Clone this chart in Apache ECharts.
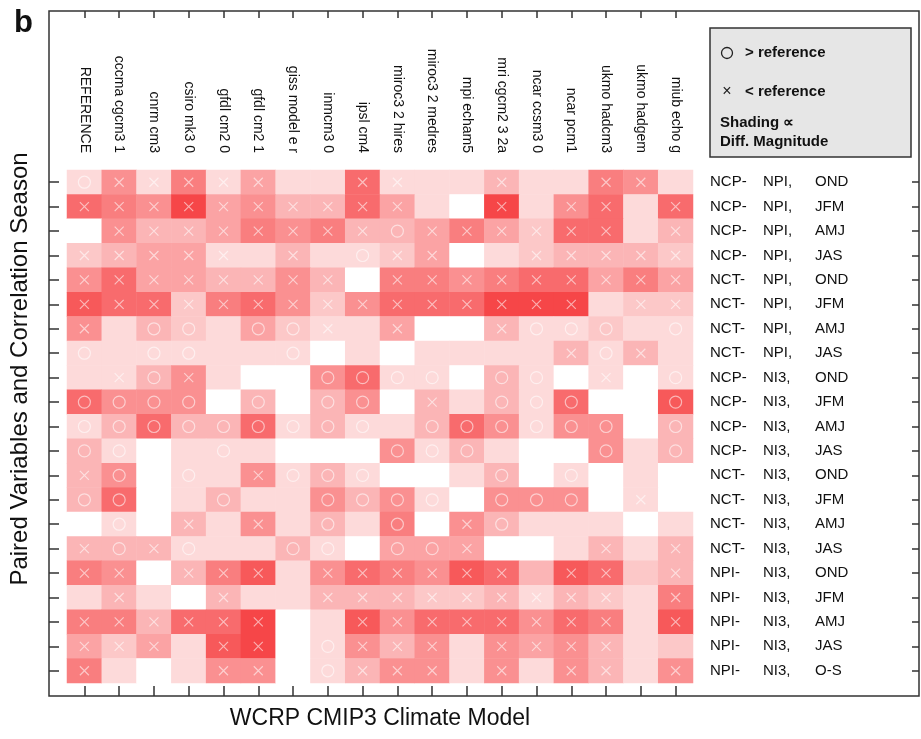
<!DOCTYPE html>
<html>
<head>
<meta charset="utf-8">
<script src="https://cdn.jsdelivr.net/npm/echarts@6/dist/echarts.min.js"></script>
<style>
html, body { margin: 0; padding: 0; background: #fff; }
#chart { width: 921px; height: 739px; }
</style>
</head>
<body>
<div id="chart"></div>
<script>
var models = ['REFERENCE', 'cccma cgcm3 1', 'cnrm cm3', 'csiro mk3 0', 'gfdl cm2 0', 'gfdl cm2 1',
	'giss model e r', 'inmcm3 0', 'ipsl cm4', 'miroc3 2 hires', 'miroc3 2 medres', 'mpi echam5',
	'mri cgcm2 3 2a', 'ncar ccsm3 0', 'ncar pcm1', 'ukmo hadcm3', 'ukmo hadgem', 'miub echo g'];

// the three columns of the row labels
var firstVar = ['NCP-', 'NCP-', 'NCP-', 'NCP-', 'NCT-', 'NCT-', 'NCT-', 'NCT-',
	'NCP-', 'NCP-', 'NCP-', 'NCP-', 'NCT-', 'NCT-', 'NCT-', 'NCT-',
	'NPI-', 'NPI-', 'NPI-', 'NPI-', 'NPI-'];
var secondVar = ['NPI,', 'NPI,', 'NPI,', 'NPI,', 'NPI,', 'NPI,', 'NPI,', 'NPI,',
	'NI3,', 'NI3,', 'NI3,', 'NI3,', 'NI3,', 'NI3,', 'NI3,', 'NI3,',
	'NI3,', 'NI3,', 'NI3,', 'NI3,', 'NI3,'];
var seasons = ['OND', 'JFM', 'AMJ', 'JAS', 'OND', 'JFM', 'AMJ', 'JAS',
	'OND', 'JFM', 'AMJ', 'JAS', 'OND', 'JFM', 'AMJ', 'JAS',
	'OND', 'JFM', 'AMJ', 'JAS', 'O-S'];

// shading (difference magnitude, 0..5), one row per pair/season
var shading = [
	[1, 3, 1, 3.5, 1, 2.5, 1, 1, 4, 1, 1, 1, 2, 1, 1, 3.5, 3, 1],
	[4, 3.5, 3, 5, 2.5, 3, 2, 2, 4, 2.5, 1, 0, 5, 1, 3, 4, 1, 4],
	[0, 3, 2, 2, 2.5, 3.5, 3, 3.5, 2, 2, 2.5, 3.5, 2.5, 1.5, 4, 4, 1, 2],
	[1.5, 2, 2.5, 2.5, 1, 1, 2, 1, 1, 1.5, 2.5, 0, 1, 1.5, 2, 2, 2, 1.5],
	[3, 4, 2.5, 2.5, 2, 2, 3, 2, 0, 3.5, 3.5, 3, 3.5, 4, 4, 2.5, 3.5, 2.5],
	[4.5, 4, 4, 1.5, 3.5, 4, 3, 1.5, 3, 4, 4, 4, 5, 5, 5, 1, 1.5, 1.5],
	[3, 1, 2, 1.5, 1, 2.5, 1.5, 1, 1, 2.5, 0, 0, 2, 1, 1, 1.5, 1, 1],
	[1, 1, 1, 1, 1, 1, 1, 0, 1, 0, 1, 1, 1, 1, 2, 1, 2, 1],
	[1, 1, 2, 3, 1, 0, 0, 3, 4, 1, 1, 0, 2, 1, 0, 1, 0, 1],
	[4, 3, 3, 3, 0, 2, 0, 2, 3, 0, 2, 1, 2, 1, 4, 0, 0, 4.5],
	[1, 2, 4, 2, 2, 4, 1, 2, 1, 1, 2, 4, 3, 1, 3, 3, 0, 2],
	[2, 1, 0, 1, 1, 1, 0, 0, 0, 3, 1, 2, 1, 0, 0, 3, 1, 2],
	[2, 3, 0, 1, 1, 3, 1, 2, 1, 0, 0, 1, 2, 0, 1, 0, 1, 0],
	[2, 4, 0, 1, 2, 1, 1, 3, 2, 3, 1, 0, 3, 3, 3, 0, 1, 0],
	[0, 1, 0, 2, 1, 3, 1, 2, 1, 3.5, 0, 3, 2, 1, 1, 1, 0, 1],
	[2, 2, 2, 1, 1, 1, 2, 1, 0, 2.5, 2.5, 2.5, 0, 0, 1, 2, 1, 2],
	[3.5, 3, 0, 2, 3.5, 4.5, 1, 3, 4, 3.5, 3, 4.5, 4, 2, 4.5, 4, 1.5, 2],
	[1, 2, 1, 0, 2, 1, 1, 2, 2, 2, 1.5, 1.5, 2, 1, 2, 1.5, 1, 3.5],
	[3.5, 3.5, 2, 4, 4, 5, 0, 1, 4.5, 3, 4, 4, 4, 3, 4, 3.5, 1, 4.5],
	[2.5, 1.5, 2.5, 1, 4.5, 5, 0, 1, 3, 2, 3, 1, 3, 2.5, 3, 2, 1, 1.5],
	[3.5, 1, 0, 1, 3, 3, 0, 1, 2, 3, 3, 1, 3, 1, 3, 2, 1, 3]
];

// o = model > reference, x = model < reference, . = no mark
var marks = [
	'oxxxxx..xx..x..xx.',
	'xxxxxxxxxx..x.xx.x',
	'.xxxxxxxxoxxxxxx.x',
	'xxxxx.x.oxx..xxxxx',
	'xxxxxxxx.xxxxxxxxx',
	'xxxxxxxxxxxxxxx.xx',
	'x.oo.oox.x..xooo.o',
	'o.oo..o.......xox.',
	'.xox...oooo.oo.x.o',
	'oooo.o.oo.x.ooo..o',
	'ooooooooo.oooooo.o',
	'oo..o....ooo...o.o',
	'xo.o.xooo...o.o...',
	'oo..o..oooo.ooo.x.',
	'.o.x.x.o.o.xo.....',
	'xoxo..oo.oox...x.x',
	'xx.xxx.xxxxxx.xx.x',
	'.x..x..xxxxxxxxx.x',
	'xxxxxx..xxxxxxxx.x',
	'xxx.xx.oxxx.xxxx..',
	'x...xx.oxxx.x.xx.x'
];

var FONT = "'Liberation Sans', Arial, sans-serif";

var cells = [], above = [], below = [];
for (var r = 0; r < shading.length; r++) {
	for (var c = 0; c < models.length; c++) {
		cells.push([c, r, shading[r][c]]);
		var m = marks[r].charAt(c);
		if (m == 'o') above.push([c, r]);
		else if (m == 'x') below.push([c, r]);
	}
}

var rowIdx = seasons.map(function (s, i) { return i; });

var chart = echarts.init(document.getElementById('chart'), null, { renderer: 'canvas' });

var tickStyle = { color: '#333', width: 1.5 };
var noLine = { show: true, lineStyle: { color: 'rgba(0,0,0,0)', width: 0 } };

var option = {
	animation: false,
	backgroundColor: '#fff',
	title: {
		text: 'b',
		left: 9,
		top: 3,
		textStyle: { fontFamily: FONT, fontSize: 31, fontWeight: 'bold', color: '#111' }
	},
	grid: [
		// cells
		{ left: 67, right: 228, top: 170, bottom: 56 },
		// x ticks on the frame
		{ left: 67, right: 228, top: 11, bottom: 43 },
		// y ticks on the frame
		{ left: 49, right: 2, top: 170, bottom: 56 }
	],
	xAxis: [
		{
			type: 'category', gridIndex: 0, position: 'top', data: models,
			axisLine: { show: false }, axisTick: { show: false }, splitLine: { show: false },
			axisLabel: { rotate: 90, margin: 17, interval: 0, fontFamily: FONT, fontSize: 14, color: '#111' }
		},
		{
			type: 'category', gridIndex: 1, position: 'bottom', data: models,
			axisLine: noLine, axisLabel: { show: false },
			axisTick: { show: true, inside: true, length: 10, interval: 0, alignWithLabel: true, lineStyle: tickStyle },
			name: 'WCRP CMIP3 Climate Model', nameLocation: 'middle', nameGap: 11,
			nameTextStyle: { fontFamily: FONT, fontSize: 23, color: '#111' }
		},
		{
			type: 'category', gridIndex: 1, position: 'top', data: models,
			axisLine: noLine, axisLabel: { show: false },
			axisTick: { show: true, inside: true, length: 7, interval: 0, alignWithLabel: true, lineStyle: tickStyle }
		},
		{ type: 'value', gridIndex: 2, show: false, min: 0, max: 1 }
	],
	yAxis: [
		{
			type: 'category', gridIndex: 0, position: 'right', inverse: true, data: firstVar,
			axisLine: { show: false }, axisTick: { show: false },
			axisLabel: { margin: 17, interval: 0, fontFamily: FONT, fontSize: 15, color: '#111' }
		},
		{
			type: 'category', gridIndex: 0, position: 'right', offset: 53, inverse: true, data: secondVar,
			axisLine: { show: false }, axisTick: { show: false },
			axisLabel: { margin: 17, interval: 0, fontFamily: FONT, fontSize: 15, color: '#111' }
		},
		{
			type: 'category', gridIndex: 0, position: 'right', offset: 105, inverse: true, data: seasons,
			axisLine: { show: false }, axisTick: { show: false },
			axisLabel: { margin: 17, interval: 0, fontFamily: FONT, fontSize: 15, color: '#111' }
		},
		{ type: 'value', gridIndex: 1, show: false, min: 0, max: 1 },
		{
			type: 'category', gridIndex: 2, position: 'left', inverse: true, data: rowIdx,
			axisLine: noLine, axisLabel: { show: false },
			axisTick: { show: true, inside: true, length: 10, interval: 0, alignWithLabel: true, lineStyle: tickStyle }
		},
		{
			type: 'category', gridIndex: 2, position: 'right', inverse: true, data: rowIdx,
			axisLine: noLine, axisLabel: { show: false },
			axisTick: { show: true, inside: true, length: 7, interval: 0, alignWithLabel: true, lineStyle: tickStyle }
		}
	],
	visualMap: {
		show: false,
		seriesIndex: 0,
		min: 0,
		max: 5,
		inRange: { color: ['#ffffff', '#f64648'] }
	},
	series: [
		{
			type: 'heatmap', xAxisIndex: 0, yAxisIndex: 0, data: cells,
			emphasis: { disabled: true }
		},
		{
			name: '> reference', type: 'scatter', xAxisIndex: 0, yAxisIndex: 0, data: above,
			symbol: 'circle', symbolSize: 12, silent: true,
			itemStyle: { color: 'rgba(0,0,0,0)', borderColor: 'rgba(255,255,255,0.7)', borderWidth: 1.2 }
		},
		{
			name: '< reference', type: 'scatter', xAxisIndex: 0, yAxisIndex: 0, data: below,
			symbol: 'path://M0,0L10,10M10,0L0,10', symbolSize: 9, silent: true,
			itemStyle: { color: 'rgba(0,0,0,0)', borderColor: 'rgba(255,255,255,0.7)', borderWidth: 1.2 }
		},
		// empty series so the two tick-only grids get laid out
		{ type: 'line', xAxisIndex: 1, yAxisIndex: 3, data: [], silent: true },
		{ type: 'line', xAxisIndex: 3, yAxisIndex: 4, data: [], silent: true }
	],
	graphic: [
		// outer frame
		{
			type: 'rect', shape: { x: 49, y: 11, width: 870, height: 685 },
			style: { fill: 'none', stroke: '#333', lineWidth: 1.5 }, z: 10
		},
		{
			type: 'text', x: 20, y: 369, rotation: Math.PI / 2,
			style: {
				text: 'Paired Variables and Correlation Season', fontFamily: FONT, fontSize: 24,
				fill: '#111', align: 'center', verticalAlign: 'middle'
			}
		},
		// legend box
		{
			type: 'group',
			children: [
				{
					type: 'rect', shape: { x: 710, y: 28, width: 201, height: 129 },
					style: { fill: '#e6e6e6', stroke: '#333', lineWidth: 1.5 }
				},
				{
					type: 'circle', shape: { cx: 727, cy: 53, r: 5.5 },
					style: { fill: 'none', stroke: '#222', lineWidth: 1.3 }
				},
				{
					type: 'text', x: 745, y: 53,
					style: { text: '> reference', fontFamily: FONT, fontSize: 15, fontWeight: 'bold', fill: '#111', verticalAlign: 'middle' }
				},
				{
					type: 'text', x: 727, y: 92,
					style: { text: '×', fontFamily: FONT, fontSize: 16, fill: '#222', align: 'center', verticalAlign: 'middle' }
				},
				{
					type: 'text', x: 745, y: 92,
					style: { text: '< reference', fontFamily: FONT, fontSize: 15, fontWeight: 'bold', fill: '#111', verticalAlign: 'middle' }
				},
				{
					type: 'text', x: 720, y: 123,
					style: { text: 'Shading ∝', fontFamily: FONT, fontSize: 15, fontWeight: 'bold', fill: '#111', verticalAlign: 'middle' }
				},
				{
					type: 'text', x: 720, y: 142,
					style: { text: 'Diff. Magnitude', fontFamily: FONT, fontSize: 15, fontWeight: 'bold', fill: '#111', verticalAlign: 'middle' }
				}
			]
		}
	]
};

chart.setOption(option);
</script>
</body>
</html>
